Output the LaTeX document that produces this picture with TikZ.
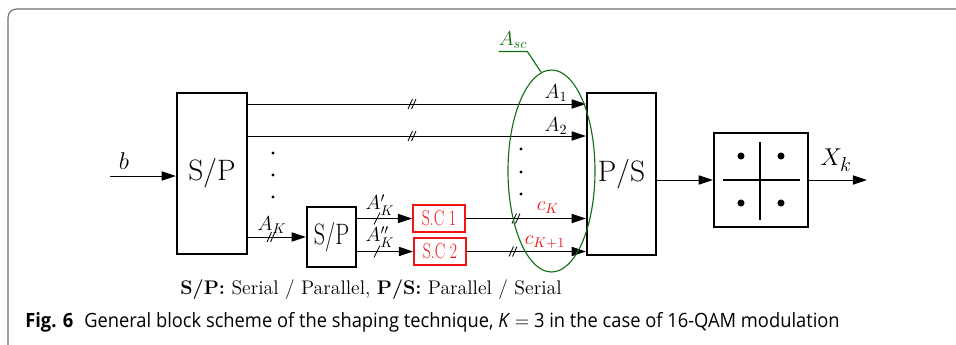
\documentclass[tikz,border=0pt]{standalone}
\usepackage{fontspec}
\usepackage{amsmath}
\usepackage{graphicx}
\usetikzlibrary{arrows.meta,positioning,calc,shapes.geometric}
\newfontfamily\capfont{Open Sans}
\definecolor{EllGreen}{RGB}{20,110,20}
\definecolor{FrameGray}{RGB}{110,110,110}
\definecolor{ScRed}{RGB}{240,20,20}

\begin{document}
\begin{tikzpicture}[x=0.025cm, y=-0.025cm,
  blk/.style={draw, line width=1.7pt, inner sep=0pt, font=\fontsize{21}{24}\selectfont},
  sc/.style={draw=ScRed, text=ScRed, line width=1.4pt, inner sep=0pt,
    minimum width=52*0.025cm, minimum height=27*0.025cm, font=\fontsize{15.5}{18}\selectfont},
  arr/.style={-{Triangle[length=10pt,width=6.5pt]}, line width=0.7pt},
  lbl/.style={font=\fontsize{14}{16}\selectfont, inner sep=0pt},
  dslash/.pic={\draw[line width=0.6pt] (-4,5)--(0.5,-5) (-0.5,5)--(4,-5);},
  sslash/.pic={\draw[line width=0.6pt] (-3,6)--(3,-6);},
]
  \useasboundingbox (0,0) rectangle (956,344);
  % frame of the figure
  \draw[FrameGray, line width=0.8pt, rounded corners=6pt] (8,360) -- (8,9) -- (970,9);

  % blocks
  \node[blk, minimum width=70*0.025cm, minimum height=161*0.025cm] (sp1) at (212,173.5) {S/P};
  \node[blk, minimum width=69*0.025cm, minimum height=162*0.025cm] (ps) at (621.5,174) {P/S};
  \node[blk, minimum width=49*0.025cm, minimum height=60*0.025cm] (sp2) at (331.5,237) {\scalebox{0.75}[1]{S/P}};
  \node[sc] (sc1) at (439,218.5) {\scalebox{0.72}[1]{S.C 1}};
  \node[sc] (sc2) at (440,251.5) {\scalebox{0.72}[1]{S.C 2}};
  \node[blk, minimum size=94*0.025cm] (qam) at (761,180) {};

  % constellation
  \draw[line width=1pt] (723,180) -- (800,180) (760,142) -- (760,220);
  \foreach \cx/\cy in {741/156, 781/156, 741/203, 781/203}
    \fill (\cx,\cy) circle (2.5pt);

  % input
  \coordinate (bin) at (110,176);
  \draw[arr] (bin) -- (bin -| sp1.west);
  \node[inner sep=0pt, font=\fontsize{18.5}{20}\selectfont] (blab) at (124,161) {$b$};

  % parallel branches
  \coordinate (r1) at (0,104);
  \coordinate (r2) at (0,136);
  \draw[arr] (r1 -| sp1.east) -- (r1 -| ps.west);
  \draw[arr] (r2 -| sp1.east) -- (r2 -| ps.west);
  \pic at (412,104) {dslash};
  \pic at (412,136) {dslash};
  \draw[arr] (sp2.west -| sp1.east) -- (sp2.west);
  \pic at (271,237) {dslash};
  \draw[arr] (sc1 -| sp2.east) -- (sc1.west);
  \draw[arr] (sc2 -| sp2.east) -- (sc2.west);
  \pic at (377,218.5) {sslash};
  \pic at (377,251.5) {sslash};
  \draw[arr] (sc1.east) -- (sc1 -| ps.west);
  \draw[arr] (sc2.east) -- (sc2 -| ps.west);
  \pic at (516,218.5) {dslash};
  \pic at (513,251.5) {dslash};
  \foreach \y in {153,175,197} \fill (273,\y) circle (1.1pt);
  \foreach \y in {149,172,194} \fill (521,\y) circle (1.1pt);

  % output
  \draw[arr] (ps.east |- qam.west) -- (qam.west);
  \coordinate (xout) at (867,180);
  \draw[arr] (qam.east) -- (xout);
  \node[inner sep=0pt, font=\fontsize{19}{21}\selectfont] (xlab) at (836,160) {$X_k$};

  % branch labels
  \node[lbl] (a1) at (556,93) {$A_1$};
  \node[lbl] (a2) at (556,126) {$A_2$};
  \node[lbl, text=ScRed] (ck) at (548,208) {$c_K$};
  \node[lbl, text=ScRed] (ck1) at (545,242) {$c_{K+1}$};
  \node[lbl] (ak) at (272,225) {$A_K$};
  \node[lbl] (ak1) at (380,205) {$A'_K$};
  \node[lbl] (ak2) at (380,237) {$A''_K$};

  % subcarrier group
  \node[ellipse, draw=EllGreen, line width=0.8pt, inner sep=0pt,
    minimum width=87*0.025cm, minimum height=202*0.025cm] (asc) at (551.5,171) {};
  \node[lbl, text=EllGreen] (asclab) at (513,40) {$A_{sc}$};
  \draw[EllGreen, line width=0.8pt] ([yshift=-2pt]asclab.south west) -- ([yshift=-2pt]asclab.south east) -- (asc.96);

  % legend and caption
  \node[inner sep=0pt, font=\fontsize{14}{16}\selectfont] (legend) at (371,290)
    {\textbf{S/P:} Serial / Parallel, \textbf{P/S:} Parallel / Serial};
  \node[inner sep=0pt, anchor=west, font=\capfont\fontsize{14}{17}\selectfont] (cap) at (25,322)
    {\scalebox{0.93}[1]{\textbf{Fig. 6}\hspace{0.6em}General block scheme of the shaping technique, \textit{K} $=$ 3 in the case of 16-QAM modulation}};
\end{tikzpicture}
\end{document}
